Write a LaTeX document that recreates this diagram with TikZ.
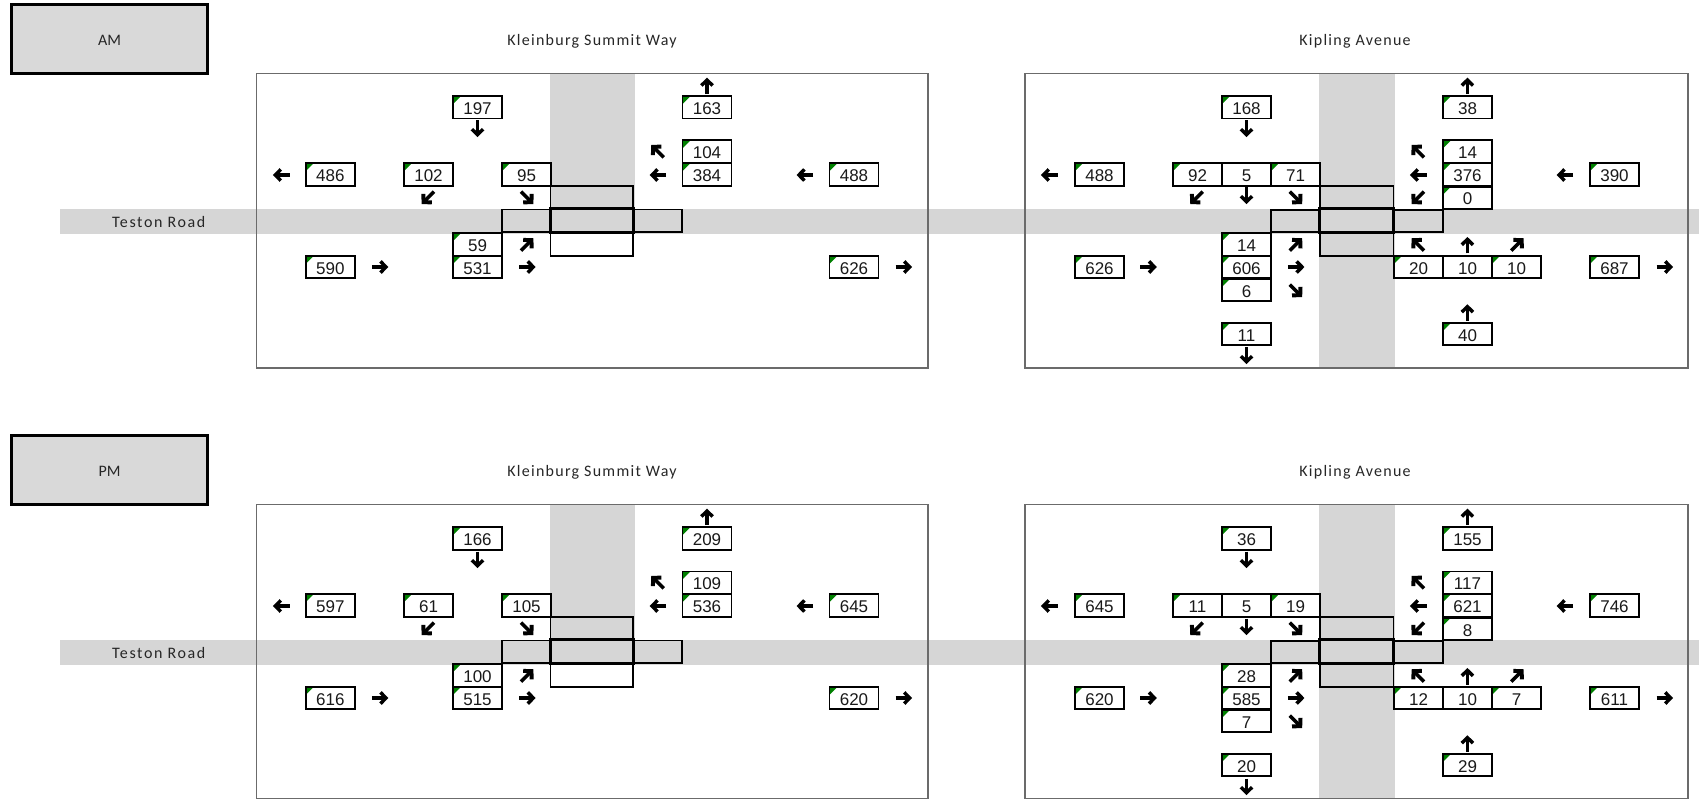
\documentclass[tikz,border=0pt]{standalone}
\usepackage{fontspec}
\setmainfont{Liberation Sans}
\newfontfamily\lblfont[LetterSpace=8]{Carlito}
\newfontfamily\tstfont[LetterSpace=10]{Carlito}
\newfontfamily\amfont{Carlito}
\definecolor{roadgray}{HTML}{D6D6D6}
\definecolor{tabgray}{HTML}{D9D9D9}
\definecolor{tickgreen}{HTML}{008000}
\tikzset{
  cnt/.style={draw=black,line width=1.9pt,fill=white,minimum width=49pt,minimum height=22.5pt,
    inner sep=0pt,outer sep=0pt,font=\fontsize{17}{20}\selectfont,text=black!90,anchor=center,
    text height=14.2pt,text depth=0pt},
  gc/.style={cnt,path picture={\fill[tickgreen] (path picture bounding box.north west) -- ++(8,0) -- ++(-8,8) -- cycle;}},
  pl/.style={cnt},
  ttl/.style={font=\lblfont\fontsize{16}{19}\selectfont,text=black!85,inner sep=0pt,anchor=center},
  tst/.style={font=\tstfont\fontsize{16}{19}\selectfont,text=black!85,inner sep=0pt,anchor=center},
  tab/.style={draw=black,line width=3pt,fill=tabgray,minimum width=196pt,minimum height=69pt,
    inner sep=0pt,font=\amfont\fontsize{16}{19}\selectfont,text=black!85,text height=12.5pt,text depth=0pt},
  frm/.style={draw=black!58,line width=1.5pt},
  rbox/.style={draw=black,line width=1.9pt},
  rcen/.style={draw=black,line width=3pt},
  ast/.pic={\draw[line width=3.2pt] (-7.5,0) -- (5.5,0);
            \draw[line width=3.5pt,miter limit=10] (1.2,-5.6) -- (6.6,0) -- (1.2,5.6);},
  adg/.pic={\draw[line width=3.5pt] (-8,0) -- (5,0);
            \draw[line width=4pt,miter limit=10] (1.2,-6) -- (6.8,0) -- (1.2,6);},
}
\newcommand{\panelstatic}[2]{%
  \node[tab] (#1tab) at (109.5,39) {#2};
  \node[ttl] (#1k) at (592,41.5) {Kleinburg Summit Way};
  \node[ttl] (#1p) at (1355,41.5) {Kipling Avenue};
  \fill[roadgray] (60,209) rectangle (1699,234);
  \fill[roadgray] (550.3,73.7) rectangle (635,209);
  \fill[roadgray] (1318.8,73.7) rectangle (1395,368);
  \node[tst] (#1t) at (158.7,222.3) {Teston Road};
  \draw[frm] (256.5,73.7) rectangle (928,368);
  \draw[frm] (1025,73.7) rectangle (1688,368);
  % Kleinburg intersection
  \draw[rbox] (550.5,186) rectangle (633,209);
  \draw[rbox] (550.5,232) rectangle (633,256);
  \draw[rbox] (502,209.5) rectangle (550.5,232);
  \draw[rbox] (633,209.5) rectangle (682,232);
  \draw[rcen] (550.5,208.5) rectangle (633,232.5);
  % Kipling intersection
  \draw[rbox] (1320,186) rectangle (1393.5,209);
  \draw[rbox] (1320,232) rectangle (1393.5,256);
  \draw[rbox] (1271,210) rectangle (1319,232);
  \draw[rbox] (1393.5,210) rectangle (1443,232);
  \draw[rcen] (1319,208.5) rectangle (1393.5,232.5);
  % straight arrows x/y/angle
  \foreach \ax/\ay/\aa in {707/86.7/90, 477.5/128/270, 658.7/175/180, 805.6/175/180, 282/175/180,
      526.6/267/0, 379.3/267/0, 903/267/0,
      1467.4/86.7/90, 1246.5/128/270, 1419/175/180, 1050/175/180, 1565.7/175/180,
      1246.5/195/270, 1295.4/267/0, 1147.8/267/0, 1664/267/0,
      1467.4/246/90, 1467.4/313.3/90, 1246.5/355/270}
    {\pic[rotate=\aa] at (\ax,\ay) {ast};}
  % diagonal arrows
  \foreach \ax/\ay/\aa in {658/151.7/135, 428.4/197.3/225, 526.6/197.3/315, 526.6/245/45,
      1418.4/151.7/135, 1418.4/197.3/225, 1197/197.3/225, 1295.4/197.3/315,
      1295.4/245/45, 1295.4/290.3/315, 1418.4/245/135, 1516.8/245/45}
    {\pic[rotate=\aa] at (\ax,\ay) {adg};}
}
\begin{document}
\begin{tikzpicture}[x=1pt,y=-1pt]
\useasboundingbox (0,0) rectangle (1699,799);
\begin{scope}
  \panelstatic{am}{AM}
  \foreach \n/\x/\y/\t/\s in {
    a/477.5/107.3/197/gc, b/707/107.3/163/gc, c/707/151.7/104/gc, d/707/174.4/384/gc,
    e/330.3/174.4/486/gc, f/428.5/174.4/102/gc, g/526.5/174.4/95/gc, h/854/174.4/488/gc,
    i/477.5/244.4/59/gc, j/477.5/267/531/gc, k/330.3/267/590/gc, l/854/267/626/gc,
    m/1246.5/107.3/168/gc, n/1467.5/107.3/38/gc, o/1467.5/151.7/14/gc, p/1467.5/174.4/376/gc,
    q/1467.5/197.9/0/gc, r/1099.5/174.4/488/gc, s/1197.5/174.4/92/gc, t/1246.5/174.4/5/pl,
    u/1295.5/174.4/71/gc, v/1614.5/174.4/390/gc, w/1246.5/244.4/14/gc, x/1246.5/267/606/gc,
    y/1246.5/290/6/gc, z/1099.5/267/626/gc, aa/1418.5/267/20/gc, ab/1467.5/267/10/pl,
    ac/1516.5/267/10/gc, ad/1614.5/267/687/gc, ae/1246.5/334/11/gc, af/1467.5/334/40/gc}
    {\node[\s] (am\n) at (\x,\y) {\t};}
\end{scope}
\begin{scope}[shift={(0,431)}]
  \panelstatic{pm}{PM}
  \foreach \n/\x/\y/\t/\s in {
    a/477.5/107.3/166/gc, b/707/107.3/209/gc, c/707/151.7/109/gc, d/707/174.4/536/gc,
    e/330.3/174.4/597/gc, f/428.5/174.4/61/gc, g/526.5/174.4/105/gc, h/854/174.4/645/gc,
    i/477.5/244.4/100/gc, j/477.5/267/515/gc, k/330.3/267/616/gc, l/854/267/620/gc,
    m/1246.5/107.3/36/gc, n/1467.5/107.3/155/gc, o/1467.5/151.7/117/gc, p/1467.5/174.4/621/gc,
    q/1467.5/197.9/8/gc, r/1099.5/174.4/645/gc, s/1197.5/174.4/11/gc, t/1246.5/174.4/5/pl,
    u/1295.5/174.4/19/gc, v/1614.5/174.4/746/gc, w/1246.5/244.4/28/gc, x/1246.5/267/585/gc,
    y/1246.5/290/7/gc, z/1099.5/267/620/gc, aa/1418.5/267/12/gc, ab/1467.5/267/10/pl,
    ac/1516.5/267/7/gc, ad/1614.5/267/611/gc, ae/1246.5/334/20/gc, af/1467.5/334/29/gc}
    {\node[\s] (pm\n) at (\x,\y) {\t};}
\end{scope}
\end{tikzpicture}
\end{document}
